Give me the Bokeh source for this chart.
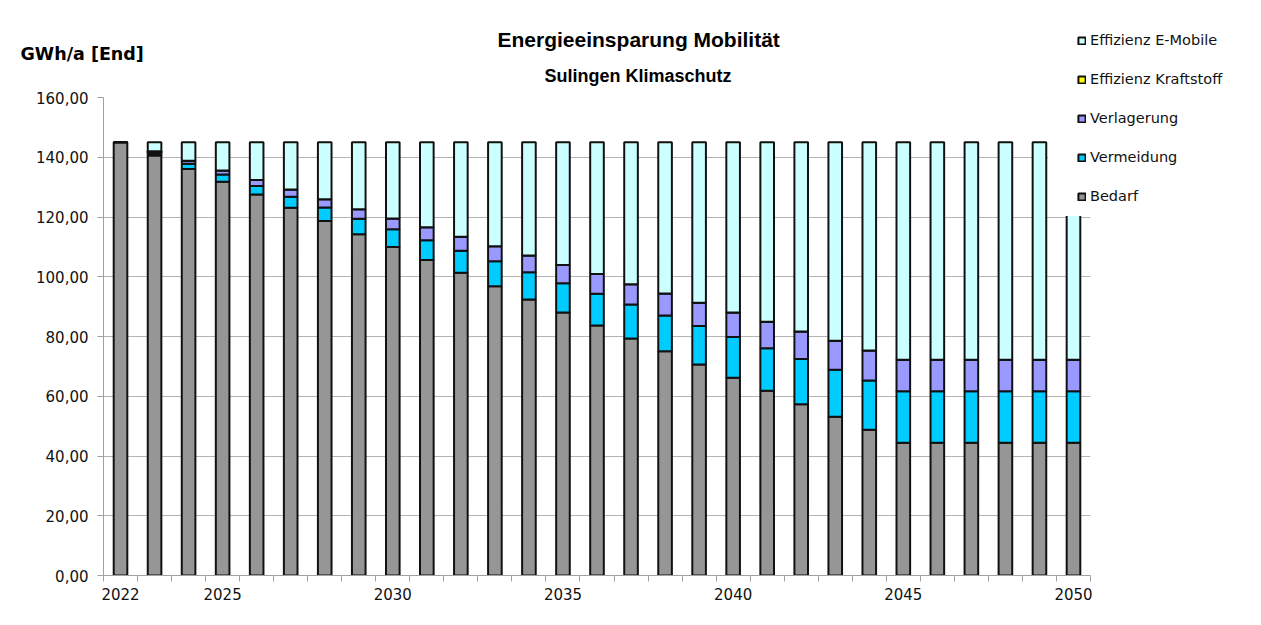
from bokeh.plotting import figure
from bokeh.models import (ColumnDataSource, FixedTicker, Legend, LegendItem, Title)
from bokeh.embed import file_html
from bokeh.resources import INLINE

# ---- data ----
years = list(range(2022, 2051))
bedarf = [145.0, 140.6, 136.1, 131.8, 127.5, 123.1, 118.7, 114.2, 110.0, 105.6,
          101.3, 96.8, 92.4, 88.0, 83.7, 79.3, 75.1, 70.6, 66.2, 61.8,
          57.3, 53.1, 48.8, 44.4, 44.4, 44.4, 44.4, 44.4, 44.4]
vermeidung = [0.0, 0.5, 1.7, 2.4, 2.9, 3.7, 4.5, 5.2, 5.9, 6.6,
              7.4, 8.4, 9.1, 9.8, 10.6, 11.4, 11.9, 12.9, 13.6, 14.3,
              15.2, 15.8, 16.5, 17.3, 17.3, 17.3, 17.3, 17.3, 17.3]
verlagerung = [0.0, 0.5, 1.0, 1.4, 2.0, 2.4, 2.7, 3.2, 3.6, 4.4,
               4.7, 5.0, 5.6, 6.1, 6.6, 6.8, 7.4, 7.8, 8.2, 8.8,
               9.2, 9.7, 10.0, 10.5, 10.5, 10.5, 10.5, 10.5, 10.5]
kraftstoff = [0.0, 0.4, 0.0, 0.0, 0.0, 0.0, 0.0, 0.0, 0.0, 0.0,
              0.0, 0.0, 0.0, 0.0, 0.0, 0.0, 0.0, 0.0, 0.0, 0.0,
              0.0, 0.0, 0.0, 0.0, 0.0, 0.0, 0.0, 0.0, 0.0]
e_mobile = [0.0, 3.0, 6.2, 9.4, 12.6, 15.8, 19.1, 22.4, 25.5, 28.4,
            31.6, 34.8, 37.9, 41.1, 44.1, 47.5, 50.6, 53.7, 57.0, 60.1,
            63.3, 66.4, 69.7, 72.8, 72.8, 72.8, 72.8, 72.8, 72.8]

series_keys = ["bedarf", "vermeidung", "verlagerung", "kraftstoff", "e_mobile"]
series_names = ["Bedarf", "Vermeidung", "Verlagerung", "Effizienz Kraftstoff", "Effizienz E-Mobile"]
series_colors = ["#969696", "#00CCFF", "#9999FF", "#FFFF00", "#CCFFFF"]

x_tick_years = [2022, 2025, 2030, 2035, 2040, 2045, 2050]
y_ticks = [0, 20, 40, 60, 80, 100, 120, 140, 160]
y_tick_labels = ["0,00", "20,00", "40,00", "60,00", "80,00", "100,00", "120,00", "140,00", "160,00"]

title_text = "Energieeinsparung Mobilität"
subtitle_text = "Sulingen Klimaschutz"
y_title = "GWh/a [End]"

source = ColumnDataSource(data=dict(year=years, bedarf=bedarf, vermeidung=vermeidung,
                                    verlagerung=verlagerung, kraftstoff=kraftstoff,
                                    e_mobile=e_mobile))

p = figure(frame_width=987, frame_height=478,
           min_border_left=103, min_border_right=170, min_border_top=97, min_border_bottom=49,
           x_range=(years[0] - 0.5, years[-1] + 0.5), y_range=(0, 160),
           output_backend="svg", toolbar_location=None, tools="", title=None)
p.outline_line_color = None
p.background_fill_color = "white"
p.border_fill_color = "white"

renderers = p.vbar_stack(series_keys, x="year", width=0.4, source=source,
                         fill_color=series_colors, line_color="#111111", line_width=2)

# axes
yax = p.yaxis[0]
yax.ticker = FixedTicker(ticks=y_ticks, minor_ticks=[])
yax.major_label_overrides = {t: l for t, l in zip(y_ticks, y_tick_labels)}
yax.axis_line_color = "#a0a0a0"
yax.major_tick_line_color = "#a0a0a0"
yax.major_tick_out = 6
yax.major_tick_in = 0
yax.minor_tick_line_color = None
yax.major_label_standoff = 9
yax.major_label_text_font = "DejaVu Sans"
yax.major_label_text_font_size = "15px"
yax.major_label_text_color = "#111111"

xax = p.xaxis[0]
xax.ticker = FixedTicker(ticks=x_tick_years, minor_ticks=[y - 0.5 for y in years] + [years[-1] + 0.5])
xax.major_label_overrides = {t: str(t) for t in x_tick_years}
xax.axis_line_color = "#a0a0a0"
xax.major_tick_line_color = None
xax.major_tick_out = 0
xax.major_tick_in = 0
xax.minor_tick_line_color = "#a0a0a0"
xax.minor_tick_out = 6
xax.minor_tick_in = 0
xax.major_label_standoff = 6
xax.major_label_text_font = "DejaVu Sans"
xax.major_label_text_font_size = "15px"
xax.major_label_text_color = "#111111"

p.xgrid.grid_line_color = None
p.ygrid.ticker = FixedTicker(ticks=y_ticks)
p.ygrid.grid_line_color = "#b4b4b4"
p.ygrid.grid_line_width = 1

# titles (stacked in the "above" panel, first added is nearest to the frame)
p.add_layout(Title(text=subtitle_text, align="left", offset=441, standoff=23,
                   text_font="Liberation Sans", text_font_style="bold", text_font_size="18px",
                   text_color="#000000"), "above")
p.add_layout(Title(text=y_title, align="left", offset=-83, standoff=-22,
                   text_font="DejaVu Sans", text_font_style="bold", text_font_size="17.5px",
                   text_color="#000000"), "above")
p.add_layout(Title(text=title_text, align="left", offset=394, standoff=4,
                   text_font="Liberation Sans", text_font_style="bold", text_font_size="21px",
                   text_color="#000000"), "above")

# white legend backdrop reaching into the plot area (as in the reference)
backdrop_r = p.vbar(x=[], top=[], width=0.4, fill_alpha=0, line_alpha=0)
backdrop = Legend(items=[LegendItem(label=" ", renderers=[backdrop_r])],
                  location=(945, 359), level="guide",
                  background_fill_color="white", background_fill_alpha=1.0,
                  border_line_color=None, padding=0, margin=0, spacing=0,
                  glyph_width=120, glyph_height=220, label_height=220, label_standoff=0,
                  label_text_alpha=0, label_text_font_size="10px")
p.add_layout(backdrop, "center")

# legend
items = [LegendItem(label=n, renderers=[r]) for n, r in zip(series_names, renderers)][::-1]
legend = Legend(items=items, location=(-13, 371), orientation="vertical",
                background_fill_color="white", background_fill_alpha=1.0,
                border_line_color=None, padding=29, spacing=23, margin=0,
                glyph_width=9, glyph_height=9, label_height=16, label_standoff=4,
                label_text_font="DejaVu Sans", label_text_font_size="14.5px",
                label_text_color="#111111")
p.add_layout(legend, "right")

open("out.html", "w").write(file_html(p, INLINE))
